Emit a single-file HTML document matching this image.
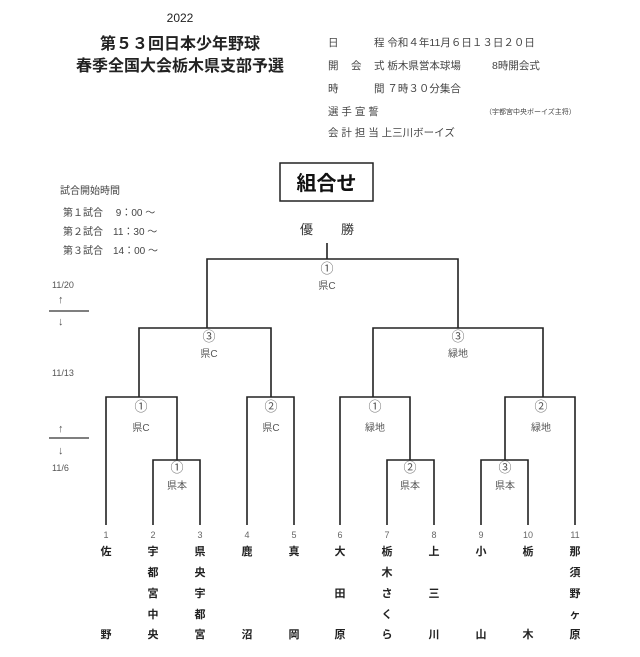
<!DOCTYPE html>
<html><head><meta charset="utf-8"><style>
html,body{margin:0;padding:0;background:#fff;}
svg{display:block;font-family:"Liberation Sans","Noto Sans CJK JP",sans-serif;}
</style></head><body>
<svg width="640" height="657" viewBox="0 0 640 657" xmlns="http://www.w3.org/2000/svg">
<g fill="#222">
<text x="180" y="22" font-size="12" text-anchor="middle">2022</text>
<text x="180" y="49" font-size="16" font-weight="bold" text-anchor="middle">第５３回日本少年野球</text>
<text x="180" y="71" font-size="16" font-weight="bold" text-anchor="middle">春季全国大会栃木県支部予選</text>
</g>
<g fill="#444" font-size="10.5">
<text x="328" y="46">日</text><text x="374" y="46">程 令和４年11月６日１３日２０日</text>
<text x="328" y="69">開</text><text x="351" y="69">会</text><text x="374" y="69">式 栃木県営本球場</text><text x="492" y="69">8時開会式</text>
<text x="328" y="92">時</text><text x="374" y="92">間 ７時３０分集合</text>
<text x="328" y="115">選 手 宣 誓</text><text x="485" y="114" font-size="7">（宇都宮中央ボーイズ主将）</text>
<text x="328" y="136">会 計 担 当 上三川ボーイズ</text>
</g>
<rect x="280" y="163" width="93" height="38" fill="none" stroke="#222" stroke-width="1.5"/>
<text x="326.5" y="190" font-size="20" font-weight="bold" text-anchor="middle" fill="#111">組合せ</text>
<g fill="#444" font-size="10">
<text x="60" y="194">試合開始時間</text>
<text x="63" y="216">第１試合　 9：00 ～</text>
<text x="63" y="235">第２試合　11：30 ～</text>
<text x="63" y="254">第３試合　14：00 ～</text>
</g>
<text x="300" y="234" font-size="13" fill="#333">優</text>
<text x="341" y="234" font-size="13" fill="#333">勝</text>
<g fill="#555" font-size="9">
<text x="52" y="288">11/20</text>
<text x="52" y="376">11/13</text>
<text x="52" y="471">11/6</text>
</g>
<g fill="#555" font-size="11">
<text x="58" y="303">↑</text><text x="58" y="325">↓</text>
<text x="58" y="432">↑</text><text x="58" y="454">↓</text>
</g>
<line x1="49" y1="311" x2="89" y2="311" stroke="#333" stroke-width="1.3"/>
<line x1="49" y1="438" x2="89" y2="438" stroke="#333" stroke-width="1.3"/>
<g fill="none" stroke="#222" stroke-width="1.6">
<line x1="327" y1="243" x2="327" y2="259"/>
<polyline points="207,328 207,259 458,259 458,328"/>
<polyline points="139,397 139,328 271,328 271,397"/>
<polyline points="373,397 373,328 543,328 543,397"/>
<polyline points="106,525 106,397 177,397 177,460"/>
<polyline points="153,525 153,460 200,460 200,525"/>
<polyline points="247,525 247,397 294,397 294,525"/>
<polyline points="340,525 340,397 410,397 410,460"/>
<polyline points="387,525 387,460 434,460 434,525"/>
<polyline points="505,460 505,397 575,397 575,525"/>
<polyline points="481,525 481,460 528,460 528,525"/>
</g>
<g fill="#555" font-size="13" text-anchor="middle">
<text x="327" y="273">①</text>
<text x="209" y="341">③</text>
<text x="458" y="341">③</text>
<text x="141" y="411">①</text>
<text x="271" y="411">②</text>
<text x="375" y="411">①</text>
<text x="541" y="411">②</text>
<text x="177" y="472">①</text>
<text x="410" y="472">②</text>
<text x="505" y="472">③</text>
</g>
<g fill="#555" font-size="10" text-anchor="middle">
<text x="327" y="289">県C</text>
<text x="209" y="357">県C</text>
<text x="458" y="357">緑地</text>
<text x="141" y="431">県C</text>
<text x="271" y="431">県C</text>
<text x="375" y="431">緑地</text>
<text x="541" y="431">緑地</text>
<text x="177" y="489">県本</text>
<text x="410" y="489">県本</text>
<text x="505" y="489">県本</text>
</g>
<g fill="#666" font-size="9" text-anchor="middle">
<text x="106" y="538">1</text><text x="153" y="538">2</text><text x="200" y="538">3</text><text x="247" y="538">4</text><text x="294" y="538">5</text><text x="340" y="538">6</text><text x="387" y="538">7</text><text x="434" y="538">8</text><text x="481" y="538">9</text><text x="528" y="538">10</text><text x="575" y="538">11</text>
</g>
<g fill="#222" font-size="11" font-weight="bold" text-anchor="middle">
<text x="106" y="555">佐</text><text x="106" y="638">野</text>
<text x="153" y="555">宇</text><text x="153" y="576">都</text><text x="153" y="597">宮</text><text x="153" y="618">中</text><text x="153" y="638">央</text>
<text x="200" y="555">県</text><text x="200" y="576">央</text><text x="200" y="597">宇</text><text x="200" y="618">都</text><text x="200" y="638">宮</text>
<text x="247" y="555">鹿</text><text x="247" y="638">沼</text>
<text x="294" y="555">真</text><text x="294" y="638">岡</text>
<text x="340" y="555">大</text><text x="340" y="597">田</text><text x="340" y="638">原</text>
<text x="387" y="555">栃</text><text x="387" y="576">木</text><text x="387" y="597">さ</text><text x="387" y="618">く</text><text x="387" y="638">ら</text>
<text x="434" y="555">上</text><text x="434" y="597">三</text><text x="434" y="638">川</text>
<text x="481" y="555">小</text><text x="481" y="638">山</text>
<text x="528" y="555">栃</text><text x="528" y="638">木</text>
<text x="575" y="555">那</text><text x="575" y="576">須</text><text x="575" y="597">野</text><text x="575" y="618">ヶ</text><text x="575" y="638">原</text>
</g>
</svg>
</body></html>
